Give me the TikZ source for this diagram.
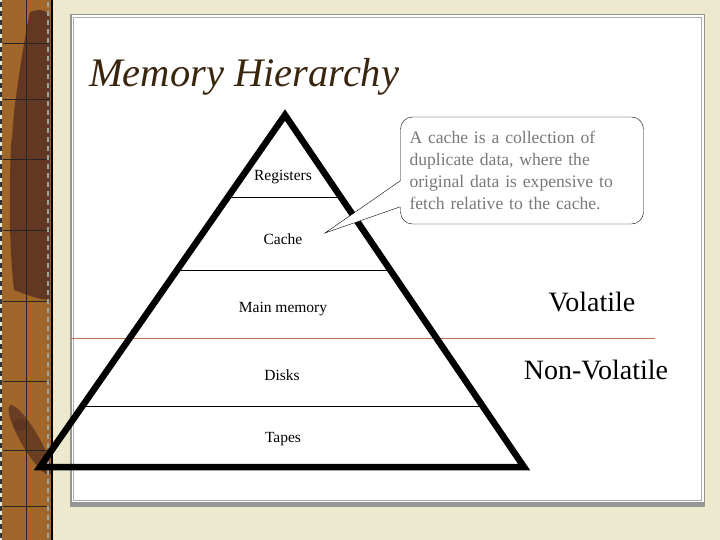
\documentclass[tikz,border=0pt]{standalone}
\usepackage{fontspec}
\setmainfont{Liberation Serif}
\usetikzlibrary{positioning,calc}

\definecolor{paper}{RGB}{236,233,207}
\definecolor{stripbrown}{RGB}{160,102,42}
\definecolor{stripdark}{RGB}{92,52,34}
\definecolor{titlebrown}{RGB}{58,38,14}
\definecolor{splitline}{RGB}{192,112,72}
\definecolor{framegray}{RGB}{150,150,150}

\begin{document}
\begin{tikzpicture}[
    x=1pt, y=-1pt,
    every node/.style={font=\fontsize{15.5}{18}\selectfont},
    level/.style={anchor=base, inner sep=0pt},
    kind/.style={anchor=base, inner sep=0pt, font=\fontsize{28}{30}\selectfont},
    notebox/.style={draw, thin, fill=white, rounded corners=12pt, text=gray!95!black,
        align=left, minimum width=243pt, minimum height=107pt, inner xsep=9pt,
        text width=225pt, font=\fontsize{17.6}{22}\selectfont}
]

% Background
\useasboundingbox (0,0) rectangle (720,540);
\fill[paper] (0,0) rectangle (720,540);

% === Binder strip (left) ===
\fill[stripbrown] (2,0) rectangle (51,540);
\fill[stripdark, opacity=0.9] (30,12) .. controls (40,8) and (50,10) .. (50,20)
    -- (50,300) .. controls (40,300) and (30,296) .. (14,290)
    .. controls (8,240) and (9,160) .. (13,120) .. controls (18,80) and (24,40) .. (30,12);
\fill[stripbrown, opacity=0.6] (3,60) .. controls (14,70) and (16,110) .. (12,140) -- (3,140) -- cycle;
\fill[stripdark, opacity=0.8, rotate around={-60:(30,440)}] (30,440) ellipse (40 and 9);
\fill[stripdark, opacity=0.7] (20,425) ellipse (7 and 6);
\foreach \y in {43,99,159,230,301,381,450,506}
    \draw[black!85] (3,\y) -- (50,\y);
\draw[black!85] (26,0) -- (26,540);
\draw[black, line width=2pt] (51.5,0) -- (51.5,540);
\draw[paper!70!black, line width=1.5pt, dash pattern=on 5pt off 4pt] (48,2) -- (48,540);
\draw[black!80, line width=2pt, dash pattern=on 5pt off 4pt] (1,2) -- (1,540);

% === Page ===
\fill[framegray] (70,14) rectangle (705,507);
\fill[white] (71.5,15.5) rectangle (703.5,502);
\draw[framegray!80] (73.5,17.5) rectangle (701,500.5);
\fill[white] (75,19) rectangle (699.5,500);

% Title
\node[anchor=base west, inner sep=0pt, text=titlebrown,
      font=\fontsize{40.5}{42}\selectfont\itshape] (title) at (89,87) {Memory Hierarchy};

% Volatile split
\draw[splitline] (70,338.5) -- (655,338.5);

% === Pyramid ===
\coordinate (apex) at (285,115);
\coordinate (baseL) at (40,467);
\coordinate (baseR) at (524,467);
\foreach \y in {197.5,270.5,406.5}
    \draw[black] ($(apex)!{(\y-115)/352}!(baseL)$) -- ($(apex)!{(\y-115)/352}!(baseR)$);
\draw[line width=6.5pt, line join=miter] (apex) -- (baseR) -- (baseL) -- cycle;

% Levels
\node[level] (registers) at (283,181) {Registers};
\node[level] (cache) at (283,244) {Cache};
\node[level] (mainmem) at (283,312) {Main memory};
\node[level] (disks) at (282,380) {Disks};
\node[level] (tapes) at (283,442) {Tapes};

% Volatility labels
\node[kind] (volatile) at (592,311) {Volatile};
\node[kind] (nonvolatile) at (596,379) {Non-Volatile};

% === Callout ===
\node[notebox] (note) at (522,170.5) {A cache is a collection of\\duplicate data, where the\\original data is expensive to\\fetch relative to the cache.};
\coordinate (tip) at (325,233);
\coordinate (p1) at ($(note.north west)+(0,64)$);
\coordinate (p2) at ($(note.north west)+(0,90)$);
\fill[white] ($(p1)+(0.8,0)$) -- (tip) -- ($(p2)+(0.8,0)$) -- cycle;
\draw[thin] (p1) -- (tip) -- (p2);

\end{tikzpicture}
\end{document}
